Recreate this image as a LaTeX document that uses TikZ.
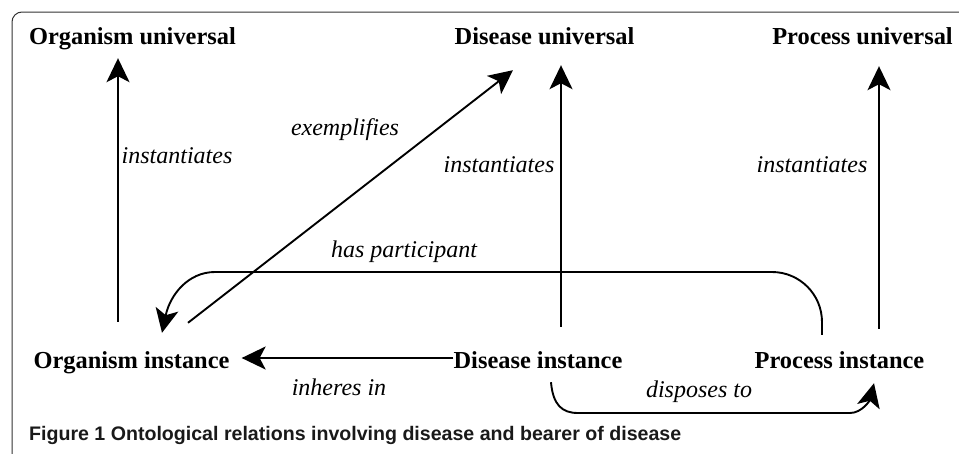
\documentclass[tikz,border=0pt]{standalone}
\usepackage{fontspec}
\usepackage{graphicx}
\setmainfont{Liberation Serif}
\newfontfamily\capfont{Liberation Sans}
\usetikzlibrary{arrows.meta,calc}
\tikzset{
  ent/.style={font=\fontsize{24.4}{29}\selectfont\bfseries, inner sep=0pt, text height=17pt, text depth=5pt, anchor=base},
  rel/.style={font=\fontsize{24}{29}\selectfont\itshape, inner sep=0pt, anchor=base},
  arr/.style={line width=1.9pt, -{Stealth[length=24pt,width=23pt,inset=6pt]}},
  frame/.style={line width=1pt, draw=black!80, rounded corners=10pt}
}
\begin{document}
\begin{tikzpicture}[x=1pt,y=-1pt]
\useasboundingbox (0,0) rectangle (959,453);
\draw[frame] (960,12) -- (12,12) -- (12,454);

% entity nodes
\node[ent] (OU) at (132.5,44) {Organism universal};
\node[ent] (DU) at (544.5,44) {Disease universal};
\node[ent] (PU) at (862.5,44) {Process universal};
\node[ent] (OI) at (131.5,368) {Organism instance};
\node[ent] (DI) at (538,368) {Disease instance};
\node[ent] (PI) at (839.5,368) {Process instance};

% relation labels
\node[rel] (l1) at (177,163) {instantiates};
\node[rel] (l2) at (345,135) {exemplifies};
\node[rel] (l3) at (499,172) {instantiates};
\node[rel] (l4) at (812,172) {instantiates};
\node[rel] (l5) at (404,257) {has participant};
\node[rel] (l6) at (339,395) {inheres in};
\node[rel] (l7) at (699,397) {disposes to};

% connectors
\draw[arr] ([xshift=-13.5pt,yshift=29pt]OI.north) -- ([xshift=-14.5pt,yshift=-9pt]OU.south);
\draw[arr] ([xshift=56.5pt,yshift=28pt]OI.north) -- ([xshift=-31.5pt,yshift=-21pt]DU.south);
\draw[arr] ([xshift=23pt,yshift=24pt]DI.north) -- ([xshift=16.5pt,yshift=-16pt]DU.south);
\draw[arr] ([xshift=39.5pt,yshift=22pt]PI.north) -- ([xshift=16.5pt,yshift=-17pt]PU.south);
\draw[arr] ([yshift=10pt]DI.base west) -- ([xshift=12pt,yshift=10pt]OI.base east);
\draw[arr] ([xshift=-17.5pt,yshift=16pt]PI.north) -- (822,322)
  .. controls (822,294.4) and (799.6,272) .. (772,272) -- (215,272)
  .. controls (188,272) and (170,295) .. ([xshift=30.5pt,yshift=18pt]OI.north);
\draw[arr] ([xshift=13pt,yshift=-9pt]DI.south)
  .. controls (553,405) and (562,413) .. (578,413) -- (850,413)
  .. controls (862,413) and (870,400) .. ([xshift=34.5pt,yshift=-10pt]PI.south);

% caption
\node[inner sep=0pt, anchor=base west, text=black!90] (cap) at (29,440) {\resizebox{652pt}{!}{\capfont\bfseries\fontsize{20}{24}\selectfont Figure 1 Ontological relations involving disease and bearer of disease}};
\end{tikzpicture}
\end{document}
